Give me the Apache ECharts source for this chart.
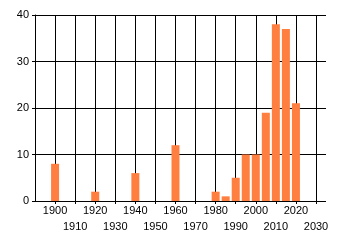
<!DOCTYPE html>
<html>
<head>
<meta charset="utf-8">
<script src="https://cdn.jsdelivr.net/npm/echarts@6/dist/echarts.min.js"></script>
<style>
html,body{margin:0;padding:0;background:#fff;}
#chart{width:340px;height:245px;}
</style>
</head>
<body>
<div id="chart"></div>
<script>
var years = [1900, 1920, 1940, 1960, 1980, 1985, 1990, 1995, 2000, 2005, 2010, 2015, 2020];
var counts = [8, 2, 6, 12, 2, 1, 5, 10, 10, 19, 38, 37, 21];
var yTicks = [0, 10, 20, 30, 40];

var barData = years.map(function (y, i) { return [y, counts[i]]; });
var font = 'Arial, "Liberation Sans", sans-serif';

var chart = echarts.init(document.getElementById('chart'), null, {renderer: 'canvas'});
chart.setOption({
  animation: false,
  backgroundColor: '#fff',
  grid: [
    {left: 35, right: 24, top: 15, bottom: 44, containLabel: false},
    {left: 35, right: 14, top: 15, bottom: 44, containLabel: false}
  ],
  xAxis: [
    {
      type: 'value', gridIndex: 0, min: 1890, max: 2030, interval: 10,
      axisLine: {show: false},
      axisTick: {show: true, length: 3, lineStyle: {color: '#000', width: 1}},
      splitLine: {show: true, showMinLine: false, lineStyle: {color: '#000', width: 1}},
      axisLabel: {
        show: true, showMinLabel: false, showMaxLabel: true, hideOverlap: false, margin: 4,
        color: '#000', fontSize: 11, fontFamily: font,
        formatter: function (v) { return ((v / 10) % 2 === 1) ? '' : String(v); }
      }
    },
    {
      type: 'value', gridIndex: 1, min: 0, max: 1, show: false
    },
    {
      type: 'value', gridIndex: 0, min: 1890, max: 2030, interval: 10, position: 'bottom',
      axisLine: {show: false}, axisTick: {show: false}, splitLine: {show: false},
      axisLabel: {
        show: true, showMinLabel: false, showMaxLabel: true, hideOverlap: false, margin: 20,
        color: '#000', fontSize: 11, fontFamily: font,
        formatter: function (v) { return ((v / 10) % 2 === 1) ? String(v) : ''; }
      }
    }
  ],
  yAxis: [
    {
      type: 'value', gridIndex: 0, min: 0, max: 40, interval: 10,
      axisLine: {show: false}, axisTick: {show: false}, axisLabel: {show: false},
      splitLine: {show: false}
    },
    {
      type: 'value', gridIndex: 1, min: yTicks[0], max: yTicks[yTicks.length - 1], interval: 10,
      axisLine: {show: true, lineStyle: {color: '#000', width: 1}},
      axisTick: {show: true, length: 3, lineStyle: {color: '#000', width: 1}},
      splitLine: {show: true, lineStyle: {color: '#000', width: 1}},
      axisLabel: {show: true, margin: 6, color: '#000', fontSize: 11, fontFamily: font}
    }
  ],
  series: [
    {
      type: 'bar', xAxisIndex: 0, yAxisIndex: 0, data: barData, barWidth: 8,
      itemStyle: {color: '#FF7F40'}, z: 5
    }
  ]
});
</script>
</body>
</html>
